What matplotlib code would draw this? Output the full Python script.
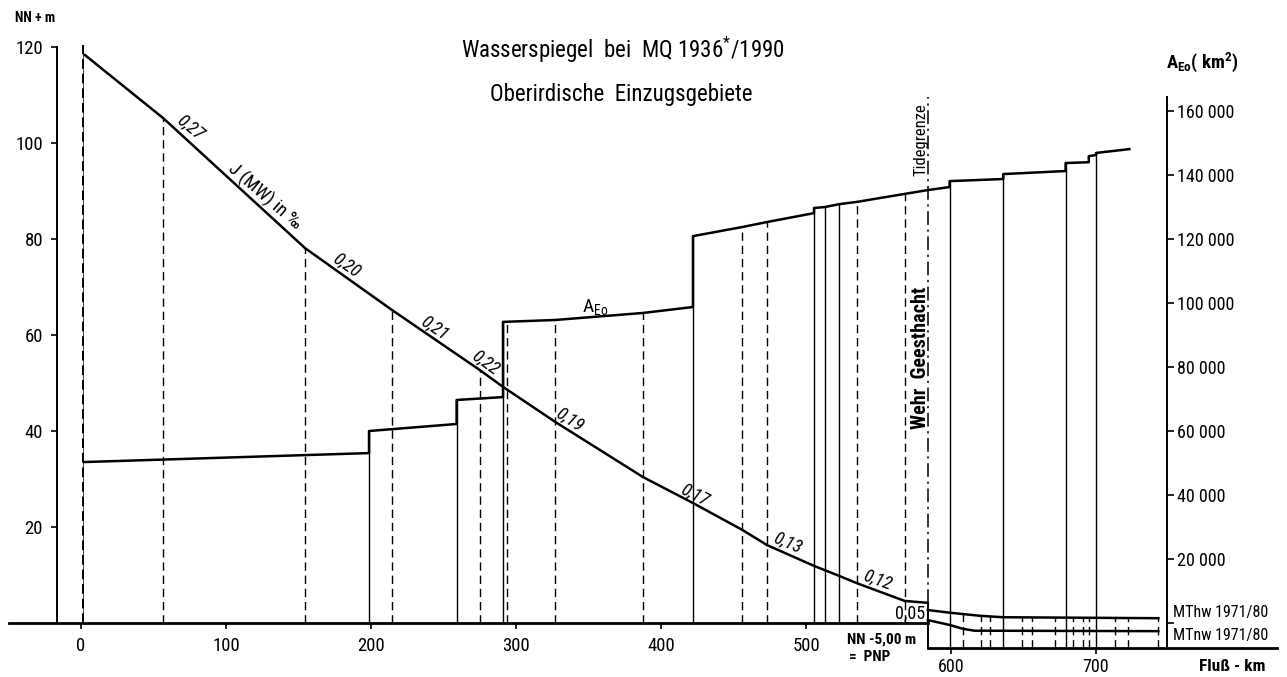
import matplotlib.pyplot as plt
import numpy as np

plt.rcParams['font.family'] = ['Roboto Condensed', 'DejaVu Sans']
plt.rcParams['font.stretch'] = 'condensed'
plt.rcParams['mathtext.default'] = 'regular'

# Wasserspiegel bei MQ (NN+m) ueber Fluss-km
ws_km = [2, 56.6, 154.5, 214.5, 275, 291, 327, 387.6, 422, 456, 473, 505.5, 513, 523, 535, 568, 584]
ws_m = [118.5, 105.2, 78.1, 65.2, 52.7, 49.2, 41.9, 30.4, 25.0, 19.4, 16.25, 11.9, 11.0, 9.8, 8.3, 4.6, 4.2]
# Gefaelle-Beschriftung J (MW) in promille
slope_lbl = ['0,27', '0,20', '0,21', '0,22', '0,19', '0,17', '0,13', '0,12']
slope_km = [75.2, 183.4, 244.1, 278.6, 337.2, 423.4, 487.6, 549.0]
slope_m = [103.3, 74.6, 61.5, 54.2, 42.3, 26.7, 16.7, 9.0]
slope_rot = [-39, -35, -34, -36, -33, -27, -23, -20]

# Tide (unterhalb Wehr Geesthacht)
mthw_km = [584, 599, 620, 636, 743]
mthw_m = [2.7, 2.15, 1.5, 1.2, 1.0]
mtnw_km = [584, 599, 608, 616, 743]
mtnw_m = [0.6, -0.4, -1.2, -1.6, -1.7]

# Oberirdisches Einzugsgebiet A_Eo (km2), Stufenlinie
aeo_km = [2, 198.6, 198.6, 259, 259, 291, 291, 327, 387.6, 422, 422, 456, 473,
          505.5, 505.5, 513, 523, 535, 568, 584, 599, 599, 636, 636, 679, 679,
          695, 695, 700, 700, 723]
aeo_val = [50300, 53100, 60000, 62200, 69700, 70600, 94100, 94700, 96900, 98750,
           120900, 123750, 125300, 128100, 129700, 130000, 130900, 131600, 134100,
           135300, 136250, 138100, 138750, 140300, 141250, 143750, 144000, 145900,
           146250, 146900, 148100]

# Querlinien (Pegel / Zufluesse)
solid_km = [198.6, 259, 291, 422, 505.5, 513, 523, 599, 636, 679, 700]
dash_ws_km = [56.6, 154.5, 214.5, 275]
dash_aeo_km = [294, 327, 387.6, 456, 473, 535, 568]
dash_tide_km = [608, 621, 627, 649, 656, 672, 684, 691, 695, 713, 722, 743]

left_ticks = [20, 40, 60, 80, 100, 120]
right_ticks = [0, 20000, 40000, 60000, 80000, 100000, 120000, 140000, 160000]
right_lbls = [''] + ['{:,}'.format(v).replace(',', ' ') for v in right_ticks[1:]]
km_ticks_up = [0, 100, 200, 300, 400, 500]
km_ticks_low = [600, 700]

SCALE = 1500.0      # km2 je m
PNP = -5.3
WEHR = 584
DASH = (0, (6, 3.5))
XLIM = (-55.9, 831.7)
YLIM = (-11.25, 129.8)

fig = plt.figure(figsize=(12.87, 6.77), dpi=100)
ax = fig.add_axes([0, 0, 1, 1])
ax.set_xlim(*XLIM)
ax.set_ylim(*YLIM)
ax.patch.set_visible(False)

def aeo_top(k):
    vals = [v for kk, v in zip(aeo_km, aeo_val) if abs(kk - k) < 0.01]
    return (max(vals) if vals else np.interp(k, aeo_km, aeo_val)) / SCALE

def base(k):
    return 0 if k < WEHR else PNP

# water level + tide
ax.plot(ws_km, ws_m, color='black', lw=1.8, solid_capstyle='butt')
ax.plot(mthw_km, mthw_m, color='black', lw=1.8)
ax.plot(mtnw_km, mtnw_m, color='black', lw=1.8)

# A_Eo on right scale
ax_r = ax.twinx()
ax_r.set_ylim(YLIM[0] * SCALE, YLIM[1] * SCALE)
ax_r.plot(aeo_km, aeo_val, color='black', lw=1.8)

for k in solid_km:
    ax.plot([k, k], [base(k), aeo_top(k)], color='black', lw=1.0)
for k in dash_ws_km:
    ax.plot([k, k], [0, np.interp(k, ws_km, ws_m)], color='black', lw=1.0, ls=DASH)
for k in dash_aeo_km:
    ax.plot([k, k], [base(k), aeo_top(k)], color='black', lw=1.0, ls=DASH)
for k in dash_tide_km:
    ax.plot([k, k], [PNP, np.interp(k, mthw_km, mthw_m)], color='black', lw=1.0, ls=DASH)

# Stationierung km 0
ax.plot([1.4, 1.4], [0, 120.5], color='black', lw=1.4, ls=(0, (5, 2.5)))
ax.plot([1.0, 1.0], [0, 120.5], color='black', lw=0.5)

# Wehr Geesthacht
ax.plot([WEHR, WEHR], [4.2, 109.6], color='black', lw=1.1, ls=(0, (9, 3, 1.5, 3)))
ax.plot([WEHR, WEHR], [PNP, 4.2], color='black', lw=1.4)

# axes / spines
for s in ['top', 'right']:
    ax.spines[s].set_visible(False)
ax.spines['left'].set_position(('data', -16.6))
ax.spines['left'].set_bounds(0, 120)
ax.spines['left'].set_linewidth(1.4)
ax.spines['bottom'].set_position(('data', 0))
ax.spines['bottom'].set_bounds(-50, WEHR)
ax.spines['bottom'].set_linewidth(2.0)
ax.set_yticks(left_ticks)
ax.set_yticklabels([str(v) for v in left_ticks])
ax.set_xticks(km_ticks_up)
ax.set_xticklabels([str(v) for v in km_ticks_up])
ax.tick_params(axis='both', direction='out', length=4, width=1.2, labelsize=13.5, pad=6)

for s in ['top', 'left', 'bottom']:
    ax_r.spines[s].set_visible(False)
ax_r.spines['right'].set_position(('data', 749))
ax_r.spines['right'].set_bounds(PNP * SCALE, 109.6 * SCALE)
ax_r.spines['right'].set_linewidth(1.4)
ax_r.set_yticks(right_ticks)
ax_r.set_yticklabels(right_lbls)
ax_r.tick_params(axis='y', direction='out', length=5, width=1.2, labelsize=13, pad=2)

# lower baseline below Wehr (PNP)
axb = fig.add_axes([0, 0, 1, 1])
axb.set_xlim(*XLIM)
axb.set_ylim(*YLIM)
axb.patch.set_visible(False)
for s in ['top', 'right', 'left']:
    axb.spines[s].set_visible(False)
axb.spines['bottom'].set_position(('data', PNP))
axb.spines['bottom'].set_bounds(WEHR, 825)
axb.spines['bottom'].set_linewidth(2.0)
axb.set_yticks([])
axb.set_xticks(km_ticks_low)
axb.set_xticklabels([str(v) for v in km_ticks_low])
axb.tick_params(axis='x', direction='out', length=4, width=1.2, labelsize=13, pad=3)

# texts
fs = 13
for lbl, k, m, r in zip(slope_lbl, slope_km, slope_m, slope_rot):
    ax.text(k, m, lbl, rotation=r, ha='center', va='center', fontsize=fs, style='italic')
ax.text(126.9, 88.75, 'J (MW) in ‰', rotation=-41, ha='center', va='center', fontsize=13.5)
ax.text(571.7, 2.0, '0,05', ha='center', va='center', fontsize=fs)
ax.text(354.5, 65.8, r'A$_{Eo}$', ha='center', va='center', fontsize=14)
ax.text(579.2, 100.8, 'Tidegrenze', rotation=90, ha='center', va='center', fontsize=12)
ax.text(579.2, 55.2, 'Wehr  Geesthacht', rotation=90, ha='center', va='center',
        fontsize=14.5, fontweight='bold')
ax.text(528.3, -3.5, 'NN -5,00 m', ha='left', va='center', fontsize=11, fontweight='bold')
ax.text(529.6, -7.1, '=  PNP', ha='left', va='center', fontsize=11, fontweight='bold')
ax.text(753, 2.1, 'MThw 1971/80', ha='left', va='center', fontsize=11.5)
ax.text(753, -2.5, 'MTnw 1971/80', ha='left', va='center', fontsize=11.5)
ax.text(793.8, -9.0, 'Fluß - km', ha='center', va='center', fontsize=12.5, fontweight='bold')
ax.text(-31.7, 126.0, 'NN + m', ha='center', va='center', fontsize=10, fontweight='bold')
ax.text(773, 116.9, r'A$_{Eo}$( km$^2$)', ha='center', va='center', fontsize=13.5, fontweight='bold')

fig.text(0.484, 0.926, r'Wasserspiegel  bei  MQ 1936$^{*}$/1990', ha='center', va='center', fontsize=16.5)
fig.text(0.483, 0.860, 'Oberirdische  Einzugsgebiete', ha='center', va='center', fontsize=16.5)

fig.savefig('out.png', dpi=100)
